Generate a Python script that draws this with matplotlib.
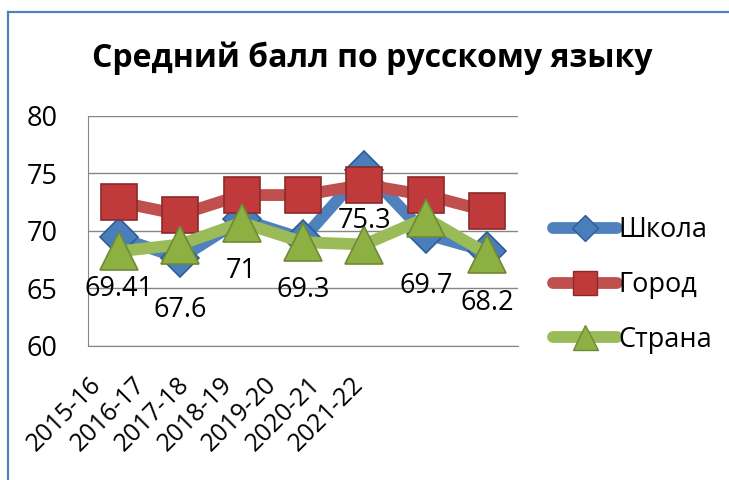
import matplotlib
matplotlib.use("Agg")
import matplotlib.pyplot as plt
from matplotlib.lines import Line2D

plt.rcParams['font.family'] = ['Open Sans', 'DejaVu Sans']

years = ['2015-16', '2016-17', '2017-18', '2018-19', '2019-20', '2020-21', '2021-22']
school = [69.41, 67.6, 71, 69.3, 75.3, 69.7, 68.2]
city = [72.5, 71.4, 73.1, 73.1, 74.0, 73.1, 71.7]
country = [68.2, 68.8, 70.7, 69.0, 68.8, 71.1, 68.0]
names = ['Школа', 'Город', 'Страна']

W, H = 729, 480
FS = 19.5
fig = plt.figure(figsize=(W / 100, H / 100), dpi=100)
fig.patch.set_facecolor('white')

# chart frame (only top and left edges visible)
frame = '#4F81BD'
fig.add_artist(Line2D([8 / W, 8 / W], [0, 1 - 12 / H], color=frame, lw=1.6))
fig.add_artist(Line2D([8 / W, 1], [1 - 12 / H, 1 - 12 / H], color=frame, lw=1.6))

ax = fig.add_axes([88 / W, 1 - 345.7 / H, 430 / W, 230 / H])
x = list(range(len(years)))

styles = [
    dict(color='#4F81BD', marker='D', ms=19, mfc='#4A7EBB', mec='#2C5D98'),
    dict(color='#C0504D', marker='s', ms=26, mfc='#C0393B', mec='#8C2A28'),
    dict(color='#9BBB59', marker='^', ms=27, mfc='#8DB043', mec='#6E8A35'),
]
for vals, st in zip([school, city, country], styles):
    ax.plot(x, vals, lw=8.5, solid_joinstyle='round', solid_capstyle='round',
            mew=1.2, **st)

for xi, v in zip(x, school):
    ax.annotate(f'{v:g}', (xi, v), xytext=(0, -37), textcoords='offset points',
                ha='center', va='center', fontsize=FS, zorder=10)

ax.set_xlim(-0.5, len(years) - 0.5)
ax.set_ylim(60, 80)
ax.set_yticks([60, 65, 70, 75, 80])
ax.grid(axis='y', color='#868686', lw=1)
ax.set_axisbelow(True)
ax.tick_params(axis='y', length=0, pad=22, labelsize=FS)
ax.tick_params(axis='x', length=0, labelbottom=False)
for s in ['top', 'right']:
    ax.spines[s].set_visible(False)
for s in ['left', 'bottom']:
    ax.spines[s].set_color('#868686')

# category labels sit on their own narrower strip, as in the original picture
lab = fig.add_axes([76 / W, 1 - 381 / H, 306 / W, 0.001])
lab.set_xlim(-0.5, len(years) - 0.5)
lab.set_ylim(0, 1)
lab.axis('off')
for i, y in enumerate(years):
    lab.text(i, 0, y, rotation=45, ha='right', va='center',
             rotation_mode='anchor', fontsize=18)

fig.text(372 / W, 1 - 58 / H, 'Средний балл по русскому языку',
         ha='center', va='center', fontsize=23, fontweight='bold')

handles = [
    Line2D([], [], lw=8.5, solid_capstyle='round', mew=1, **dict(styles[0], ms=13)),
    Line2D([], [], lw=8.5, solid_capstyle='round', mew=1, **dict(styles[1], ms=17)),
    Line2D([], [], lw=8.5, solid_capstyle='round', mew=1, **dict(styles[2], ms=18)),
]
fig.legend(handles, names, loc='center left', bbox_to_anchor=(553 / W, 1 - 285 / H),
           frameon=False, fontsize=FS, handlelength=2.35, handletextpad=0.05,
           labelspacing=0.98, borderpad=0, borderaxespad=0)

fig.savefig('out.png', dpi=100)
